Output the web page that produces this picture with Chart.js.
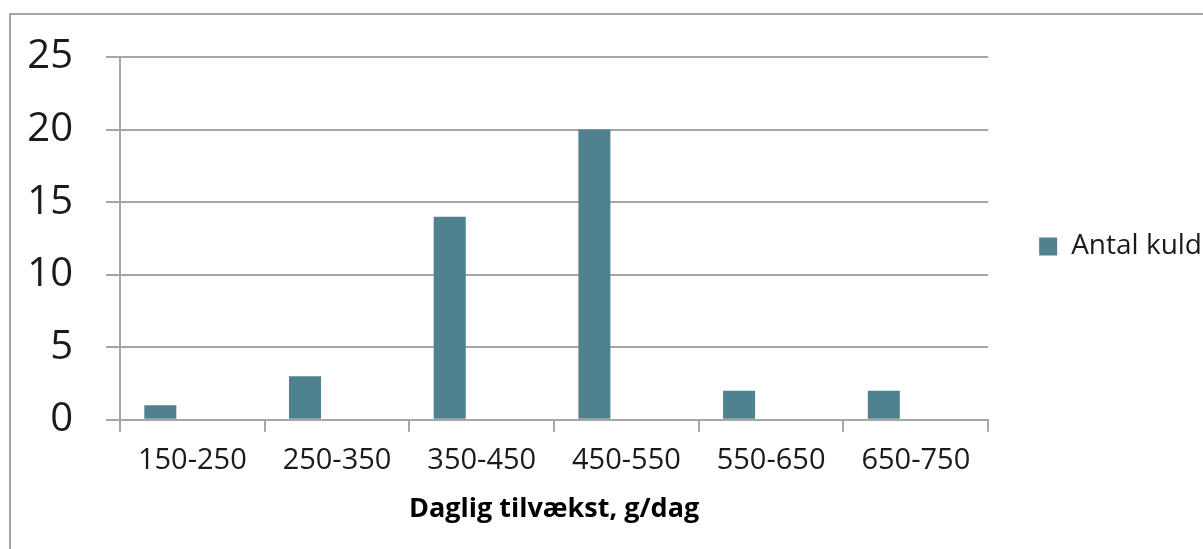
<!DOCTYPE html>
<html>
<head>
<meta charset="utf-8">
<script src="https://cdn.jsdelivr.net/npm/chart.js@4.4.0/dist/chart.umd.min.js"></script>
<style>
  html, body { margin: 0; padding: 0; background: #fff; overflow: hidden; }
  #ramme { position: absolute; left: 9px; top: 13px; width: 1300px; height: 700px;
           border-left: 2px solid #a6a6a6; border-top: 2px solid #a6a6a6; }
  #wrap { position: absolute; left: 0; top: 0; width: 1203px; height: 549px; }
</style>
</head>
<body>
<div id="ramme"></div>
<div id="wrap"><canvas id="kuldChart"></canvas></div>
<script>
// data
var kategorier = ['150-250', '250-350', '350-450', '450-550', '550-650', '650-750'];
var antalKuld = [1, 3, 14, 20, 2, 2];
var tomSerie = [null, null, null, null, null, null];
var yTicks = [0, 5, 10, 15, 20, 25];

var gitter = '#a6a6a6';
var barFarve = '#4f818e';

// flyt legenden lidt væk fra plotområdet (som i Excel)
var legendeFlyt = {
    id: 'legendeFlyt',
    afterLayout: function(chart) {
        var lg = chart.legend;
        if (!lg) return;
        var dx = chart.chartArea.right + 41 - lg.left;
        lg.left += dx;
        lg.right += dx;
        lg.top += 8;
        lg.bottom += 8;
    }
};

var ctx = document.getElementById('kuldChart');
var kuldChart = new Chart(ctx, {
    type: 'bar',
    data: {
        labels: kategorier,
        datasets: [{
            label: 'Antal kuld',
            data: antalKuld,
            backgroundColor: barFarve,
            borderWidth: 0
        }, {
            label: 'tom1',
            data: tomSerie,
            backgroundColor: barFarve
        }, {
            label: 'tom2',
            data: tomSerie,
            backgroundColor: barFarve
        }]
    },
    options: {
        responsive: true,
        maintainAspectRatio: false,
        animation: false,
        categoryPercentage: 0.664,
        barPercentage: 1,
        layout: {
            padding: { top: 33, right: 32, bottom: 23, left: 0 }
        },
        plugins: {
            tooltip: { enabled: false },
            legend: {
                position: 'right',
                fullSize: false,
                labels: {
                    boxWidth: 18,
                    boxHeight: 18,
                    padding: 10,
                    color: '#1a1a1a',
                    font: { family: 'Open Sans', size: 28 },
                    filter: function(item) { return item.datasetIndex === 0; }
                }
            }
        },
        scales: {
            x: {
                grid: {
                    offset: true,
                    drawOnChartArea: false,
                    color: gitter,
                    lineWidth: 2,
                    tickLength: 12
                },
                border: { display: true, color: gitter, width: 2 },
                ticks: {
                    color: '#1a1a1a',
                    padding: 12,
                    maxRotation: 0,
                    font: { family: 'Open Sans', size: 29 }
                },
                title: {
                    display: true,
                    text: 'Daglig tilvækst, g/dag',
                    color: '#000',
                    font: { family: 'Open Sans', size: 27, weight: 'bold' },
                    padding: { top: 3, bottom: 0 }
                }
            },
            y: {
                min: 0,
                max: 25,
                afterBuildTicks: function(scale) {
                    scale.ticks = yTicks.map(function(v) { return { value: v }; });
                },
                afterFit: function(scale) { scale.width = 120; },
                grid: {
                    color: gitter,
                    lineWidth: 2,
                    tickLength: 14
                },
                border: { display: true, color: gitter, width: 2 },
                ticks: {
                    color: '#1a1a1a',
                    padding: 33,
                    font: { family: 'Open Sans', size: 40 }
                }
            }
        }
    },
    plugins: [legendeFlyt]
});
</script>
</body>
</html>
